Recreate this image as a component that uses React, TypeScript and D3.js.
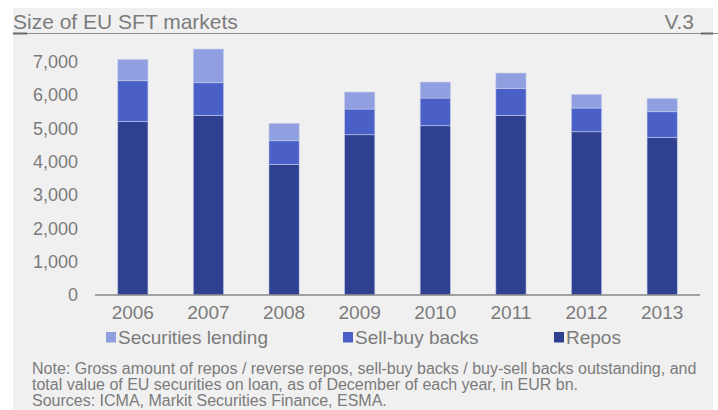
import React from "react";
import * as d3 from "d3";

const years = ["2006", "2007", "2008", "2009", "2010", "2011", "2012", "2013"];
const repos = [5210, 5390, 3920, 4810, 5080, 5390, 4900, 4730];
const sellBuyBacks = [1220, 980, 710, 770, 830, 810, 710, 770];
const securitiesLending = [640, 1010, 520, 510, 480, 460, 410, 400];
const yTicks = [0, 1000, 2000, 3000, 4000, 5000, 6000, 7000];
const seriesNames = ["Repos", "Sell-buy backs", "Securities lending"];
const seriesColors = ["#2e408f", "#4a60c7", "#8f9fdf"];
const legendOrder = [2, 1, 0];
const noteLines = [
  "Note: Gross amount of repos / reverse repos, sell-buy backs / buy-sell backs outstanding, and",
  "total value of EU securities on loan, as of December of each year, in EUR bn.",
  "Sources: ICMA, Markit Securities Finance, ESMA.",
];

const W = 718;
const H = 410;
const FONT = "'Liberation Sans', Arial, sans-serif";
const GREY = "#7b7b7b";

export default function App() {
  const x = d3.scaleBand<string>().domain(years).range([95, 700]).paddingInner(0.6).paddingOuter(0.3);
  const y = d3.scaleLinear().domain([0, 7000]).range([295, 61.7]);

  const rows = years.map((yr, i) => ({
    year: yr,
    s0: repos[i],
    s1: sellBuyBacks[i],
    s2: securitiesLending[i],
  }));
  const stack = d3.stack<any>().keys(["s0", "s1", "s2"]);
  const layers = stack(rows);

  const legendX = [106, 343, 554];

  return (
    <div style={{ position: "absolute", left: 0, top: 0, margin: 0 }}>
      <svg width={W} height={H} style={{ display: "block" }} fontFamily={FONT}>
        <rect x={0} y={0} width={W} height={H} fill="#ffffff" />
        <rect x={13} y={8} width={700} height={H - 8} fill="#f0f0f0" />
        <text x={13} y={28.5} fontSize={21} fill={GREY}>Size of EU SFT markets</text>
        <text x={694} y={28.5} fontSize={21} fill={GREY} textAnchor="end">V.3</text>
        <line x1={13} x2={718} y1={33.5} y2={33.5} stroke="#8a8a8a" strokeWidth={1} />
        <line x1={13} x2={27} y1={33.5} y2={33.5} stroke="#6a6a6a" strokeWidth={2} />
        <line x1={701} x2={713} y1={33.5} y2={33.5} stroke="#6a6a6a" strokeWidth={2} />

        {yTicks.map((t) => (
          <text key={t} x={78} y={y(t) + 6.2} fontSize={18} fill={GREY} textAnchor="end">
            {d3.format(",")(t)}
          </text>
        ))}

        {layers.map((layer, li) =>
          layer.map((d, i) => (
            <rect
              key={li + "-" + i}
              x={x(years[i])!}
              y={y(d[1])}
              width={x.bandwidth()}
              height={y(d[0]) - y(d[1])}
              fill={seriesColors[li]}
              stroke="#c9d0ee"
              strokeOpacity={0.7}
              strokeWidth={0.8}
            />
          ))
        )}

        <line x1={95} x2={700} y1={295} y2={295} stroke="#888888" strokeWidth={1.5} />

        {years.map((yr) => (
          <text key={yr} x={x(yr)! + x.bandwidth() / 2} y={319} fontSize={19} fill={GREY} textAnchor="middle">
            {yr}
          </text>
        ))}

        {legendOrder.map((si, k) => (
          <g key={si}>
            <rect x={legendX[k]} y={332} width={10} height={10.5} fill={seriesColors[si]} />
            <text x={legendX[k] + 12} y={343.5} fontSize={19} fill={GREY}>{seriesNames[si]}</text>
          </g>
        ))}

        {noteLines.map((l, i) => (
          <text key={i} x={32} y={374 + i * 16} fontSize={16} fill={GREY}>{l}</text>
        ))}
      </svg>
    </div>
  );
}
